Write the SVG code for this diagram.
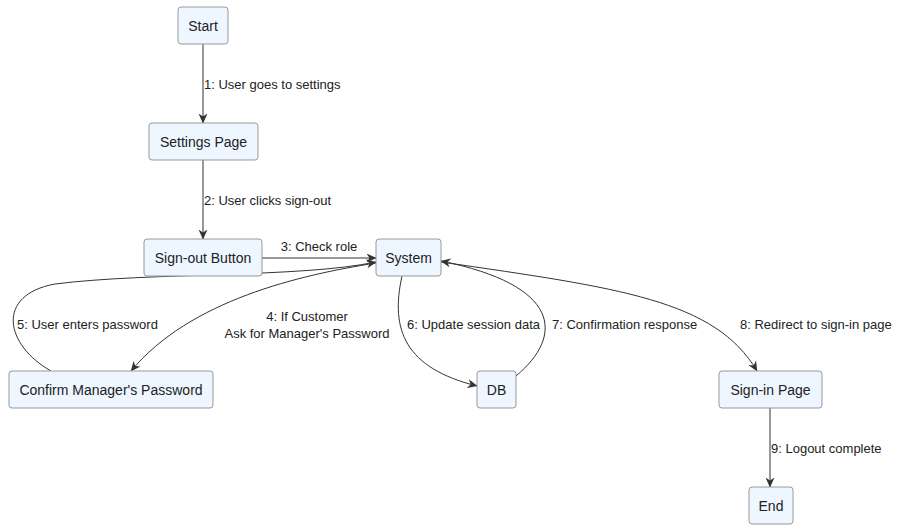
<svg xmlns="http://www.w3.org/2000/svg" width="901" height="530" viewBox="0 0 901 530">
<defs>
<marker id="ah" viewBox="0 0 10 10" refX="9.5" refY="5" markerWidth="10" markerHeight="10" markerUnits="userSpaceOnUse" orient="auto">
<path d="M0,0.5 L10,5 L0,9.5 L3,5 z" fill="#333"/>
</marker>
<style>
.n rect{fill:#eef6ff;stroke:#999;stroke-width:1}
.n text{font-family:"Liberation Sans",Arial,sans-serif;font-size:14px;fill:#222;text-anchor:middle;dominant-baseline:central}
.e path{fill:none;stroke:#333;stroke-width:1;marker-end:url(#ah)}
.l{font-family:"Liberation Sans",Arial,sans-serif;font-size:13px;fill:#222;dominant-baseline:central}
</style>
</defs>
<rect width="901" height="530" fill="#fff"/>
<g id="edges" class="e">
<path d="M203,44 L203,123"/>
<path d="M203,160 L203,239"/>
<path d="M262,258 L376,258"/>
<path d="M376,263 C 300,275 190,300 131,371"/>
<path d="M51,371 C 5,345 -5,295 55,284 C 150,272 300,278 376,262"/>
<path d="M402,276 C 390,330 405,368 477,386"/>
<path d="M516,376 C 565,335 560,285 441,261"/>
<path d="M441,262 C 620,288 715,300 757,371"/>
<path d="M770,408 L770,487"/>
</g>
<g id="labels">
<text class="l" x="204" y="84">1: User goes to settings</text>
<text class="l" x="204" y="200">2: User clicks sign-out</text>
<text class="l" x="319" y="246" text-anchor="middle">3: Check role</text>
<text class="l" x="307" y="316" text-anchor="middle">4: If Customer</text>
<text class="l" x="307" y="333" text-anchor="middle">Ask for Manager's Password</text>
<text class="l" x="17" y="324">5: User enters password</text>
<text class="l" x="407" y="324">6: Update session data</text>
<text class="l" x="552" y="324">7: Confirmation response</text>
<text class="l" x="740" y="324">8: Redirect to sign-in page</text>
<text class="l" x="771" y="448">9: Logout complete</text>
</g>
<g id="start" class="n"><rect x="178" y="7" width="50" height="37" rx="3"/><text x="203" y="26">Start</text></g>
<g id="settings" class="n"><rect x="149" y="123" width="109" height="37" rx="3"/><text x="203.5" y="142">Settings Page</text></g>
<g id="signout" class="n"><rect x="144" y="239" width="118" height="37" rx="3"/><text x="203" y="258">Sign-out Button</text></g>
<g id="system" class="n"><rect x="376" y="239" width="65" height="37" rx="3"/><text x="408.5" y="258">System</text></g>
<g id="confirm" class="n"><rect x="9" y="371" width="204" height="37" rx="3"/><text x="111" y="390">Confirm Manager's Password</text></g>
<g id="db" class="n"><rect x="477" y="371" width="39" height="37" rx="3"/><text x="496.5" y="390">DB</text></g>
<g id="signin" class="n"><rect x="719" y="371" width="103" height="37" rx="3"/><text x="770.5" y="390">Sign-in Page</text></g>
<g id="end" class="n"><rect x="749" y="487" width="44" height="37" rx="3"/><text x="771" y="506">End</text></g>
</svg>
